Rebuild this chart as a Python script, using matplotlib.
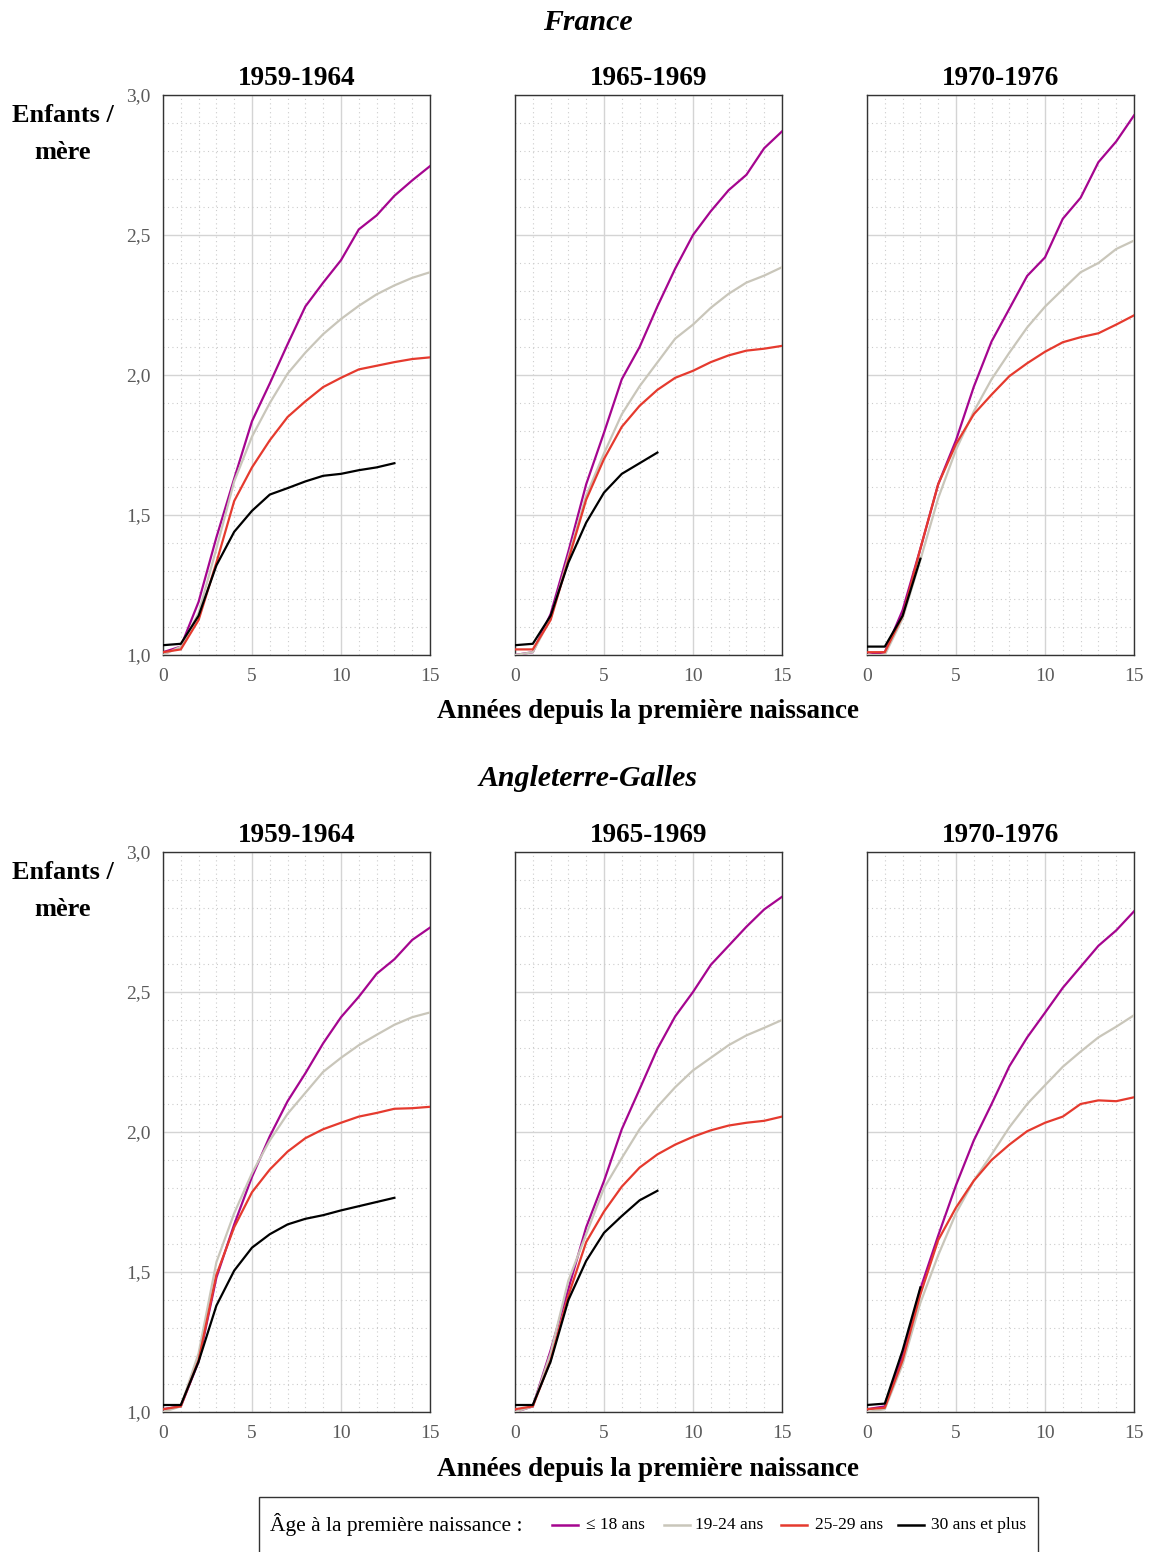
import matplotlib
matplotlib.use('Agg')
import matplotlib.pyplot as plt
from matplotlib.lines import Line2D
from matplotlib.patches import Rectangle
from matplotlib.ticker import MultipleLocator, FuncFormatter

plt.rcParams['font.family'] = ['Liberation Serif', 'DejaVu Serif']

# --- données ---
annees = list(range(16))
periodes = ['1959-1964', '1965-1969', '1970-1976']
groupes = ['≤ 18 ans', '19-24 ans', '25-29 ans', '30 ans et plus']
couleurs = ['#a5058f', '#c9c6ba', '#e53a2e', '#000000']

# France
fr_59_18 = [1.01, 1.03, 1.19, 1.42, 1.63, 1.835, 1.97, 2.11, 2.245, 2.33, 2.41, 2.52, 2.57, 2.64, 2.695, 2.746]
fr_59_19 = [1.00, 1.03, 1.15, 1.38, 1.62, 1.78, 1.90, 2.005, 2.08, 2.146, 2.20, 2.247, 2.288, 2.32, 2.347, 2.367]
fr_59_25 = [1.01, 1.02, 1.125, 1.33, 1.55, 1.67, 1.767, 1.85, 1.906, 1.957, 1.99, 2.02, 2.033, 2.046, 2.057, 2.063]
fr_59_30 = [1.035, 1.04, 1.14, 1.32, 1.44, 1.515, 1.573, 1.596, 1.62, 1.64, 1.647, 1.66, 1.67, 1.685]

fr_65_18 = [1.00, 1.01, 1.146, 1.37, 1.61, 1.794, 1.985, 2.10, 2.245, 2.38, 2.50, 2.585, 2.66, 2.715, 2.81, 2.87]
fr_65_19 = [1.00, 1.01, 1.13, 1.35, 1.57, 1.72, 1.86, 1.96, 2.045, 2.13, 2.18, 2.24, 2.29, 2.33, 2.355, 2.385]
fr_65_25 = [1.02, 1.02, 1.125, 1.34, 1.555, 1.70, 1.815, 1.89, 1.947, 1.99, 2.015, 2.046, 2.07, 2.087, 2.094, 2.104]
fr_65_30 = [1.035, 1.04, 1.14, 1.33, 1.473, 1.58, 1.647, 1.685, 1.723]

fr_70_18 = [1.00, 1.01, 1.16, 1.38, 1.61, 1.767, 1.958, 2.12, 2.237, 2.354, 2.42, 2.558, 2.633, 2.76, 2.834, 2.927]
fr_70_19 = [1.00, 1.00, 1.13, 1.34, 1.56, 1.733, 1.87, 1.985, 2.08, 2.17, 2.244, 2.306, 2.367, 2.40, 2.45, 2.48]
fr_70_25 = [1.01, 1.01, 1.14, 1.38, 1.61, 1.753, 1.86, 1.93, 1.996, 2.042, 2.083, 2.117, 2.135, 2.149, 2.18, 2.213]
fr_70_30 = [1.03, 1.03, 1.14, 1.344]

# Angleterre-Galles
ag_59_18 = [1.01, 1.02, 1.18, 1.48, 1.67, 1.84, 1.985, 2.11, 2.21, 2.317, 2.41, 2.483, 2.565, 2.617, 2.686, 2.73]
ag_59_19 = [1.00, 1.02, 1.21, 1.535, 1.71, 1.853, 1.97, 2.065, 2.14, 2.215, 2.265, 2.31, 2.347, 2.383, 2.41, 2.427]
ag_59_25 = [1.01, 1.02, 1.185, 1.49, 1.66, 1.785, 1.866, 1.93, 1.978, 2.01, 2.033, 2.055, 2.068, 2.083, 2.085, 2.09]
ag_59_30 = [1.025, 1.025, 1.18, 1.38, 1.505, 1.587, 1.635, 1.67, 1.69, 1.703, 1.72, 1.735, 1.75, 1.765]

ag_65_18 = [1.00, 1.02, 1.22, 1.44, 1.66, 1.825, 2.01, 2.153, 2.297, 2.413, 2.50, 2.597, 2.665, 2.733, 2.795, 2.84]
ag_65_19 = [1.00, 1.02, 1.21, 1.47, 1.635, 1.80, 1.907, 2.01, 2.09, 2.16, 2.22, 2.265, 2.31, 2.345, 2.372, 2.40]
ag_65_25 = [1.01, 1.02, 1.185, 1.416, 1.607, 1.716, 1.805, 1.873, 1.92, 1.955, 1.983, 2.006, 2.023, 2.033, 2.04, 2.055]
ag_65_30 = [1.025, 1.025, 1.18, 1.40, 1.54, 1.64, 1.70, 1.756, 1.79]

ag_70_18 = [1.01, 1.02, 1.20, 1.44, 1.63, 1.81, 1.97, 2.10, 2.235, 2.338, 2.426, 2.515, 2.59, 2.665, 2.72, 2.788]
ag_70_19 = [1.00, 1.01, 1.17, 1.39, 1.56, 1.71, 1.826, 1.92, 2.017, 2.10, 2.167, 2.233, 2.287, 2.338, 2.376, 2.417]
ag_70_25 = [1.01, 1.015, 1.185, 1.42, 1.614, 1.73, 1.826, 1.90, 1.955, 2.003, 2.033, 2.055, 2.10, 2.113, 2.11, 2.124]
ag_70_30 = [1.025, 1.03, 1.22, 1.445]

pays = [
    ('France', [[fr_59_18, fr_59_19, fr_59_25, fr_59_30],
                [fr_65_18, fr_65_19, fr_65_25, fr_65_30],
                [fr_70_18, fr_70_19, fr_70_25, fr_70_30]]),
    ('Angleterre-Galles', [[ag_59_18, ag_59_19, ag_59_25, ag_59_30],
                           [ag_65_18, ag_65_19, ag_65_25, ag_65_30],
                           [ag_70_18, ag_70_19, ag_70_25, ag_70_30]]),
]

W, H = 1149, 1552
fig = plt.figure(figsize=(W / 100, H / 100), dpi=100)

def fx(px):
    return px / W

def fy(py):
    return 1 - py / H

lefts = [163, 515, 867]
larg = 267
tops = [95, 852]
haut = 560

virgule = FuncFormatter(lambda v, p: f"{v:.1f}".replace('.', ','))

for r, (nom, series) in enumerate(pays):
    top = tops[r]
    fig.text(fx(588), fy(top - 73), nom, ha='center', va='center',
             fontsize=21.5, fontweight='bold', fontstyle='italic')
    for c in range(3):
        ax = fig.add_axes([fx(lefts[c]), fy(top + haut), fx(larg), haut / H])
        for serie, coul in zip(series[c], couleurs):
            ax.plot(annees[:len(serie)], serie, color=coul, lw=1.6, zorder=3)
        ax.set_xlim(0, 15)
        ax.set_ylim(1, 3)
        ax.xaxis.set_major_locator(MultipleLocator(5))
        ax.xaxis.set_minor_locator(MultipleLocator(1))
        ax.yaxis.set_major_locator(MultipleLocator(0.5))
        ax.yaxis.set_minor_locator(MultipleLocator(0.1))
        ax.grid(which='major', color='#d4d4d4', lw=1.0)
        ax.grid(which='minor', color='#cccccc', lw=0.8, ls=(0, (1, 3)))
        ax.set_axisbelow(True)
        ax.tick_params(which='both', length=0, labelsize=14, labelcolor='#5a5a5a')
        ax.tick_params(axis='x', pad=9)
        ax.tick_params(axis='y', pad=9)
        ax.yaxis.set_major_formatter(virgule)
        if c > 0:
            ax.set_yticklabels([])
        for s in ax.spines.values():
            s.set_color('#333333')
            s.set_linewidth(1.0)
        ax.set_title(periodes[c], fontsize=19.5, fontweight='bold', pad=7)
    fig.text(fx(63), fy(top + 39), 'Enfants /\nmère', ha='center', va='center',
             fontsize=19, fontweight='bold', linespacing=1.75)
    fig.text(fx(648), fy(top + haut + 57), 'Années depuis la première naissance',
             ha='center', va='center', fontsize=19.5, fontweight='bold')

# --- légende ---
fig.patches.append(Rectangle((fx(259), fy(1570)), fx(1038 - 259), (1570 - 1497) / H,
                             transform=fig.transFigure, fill=False,
                             edgecolor='#333333', lw=1.0, clip_on=False))
ly = fy(1525)
fig.text(fx(270), ly, 'Âge à la première naissance :', ha='left', va='center', fontsize=15.5)
pos_ligne = [552, 664, 781, 898]
pos_texte = [586, 695, 815, 931]
for g, coul, xl, xt in zip(groupes, couleurs, pos_ligne, pos_texte):
    fig.lines.append(Line2D([fx(xl), fx(xl + 26)], [ly, ly], transform=fig.transFigure,
                            color=coul, lw=1.8))
    fig.text(fx(xt), ly, g, ha='left', va='center', fontsize=12.5)

fig.savefig('out.png', dpi=100)
